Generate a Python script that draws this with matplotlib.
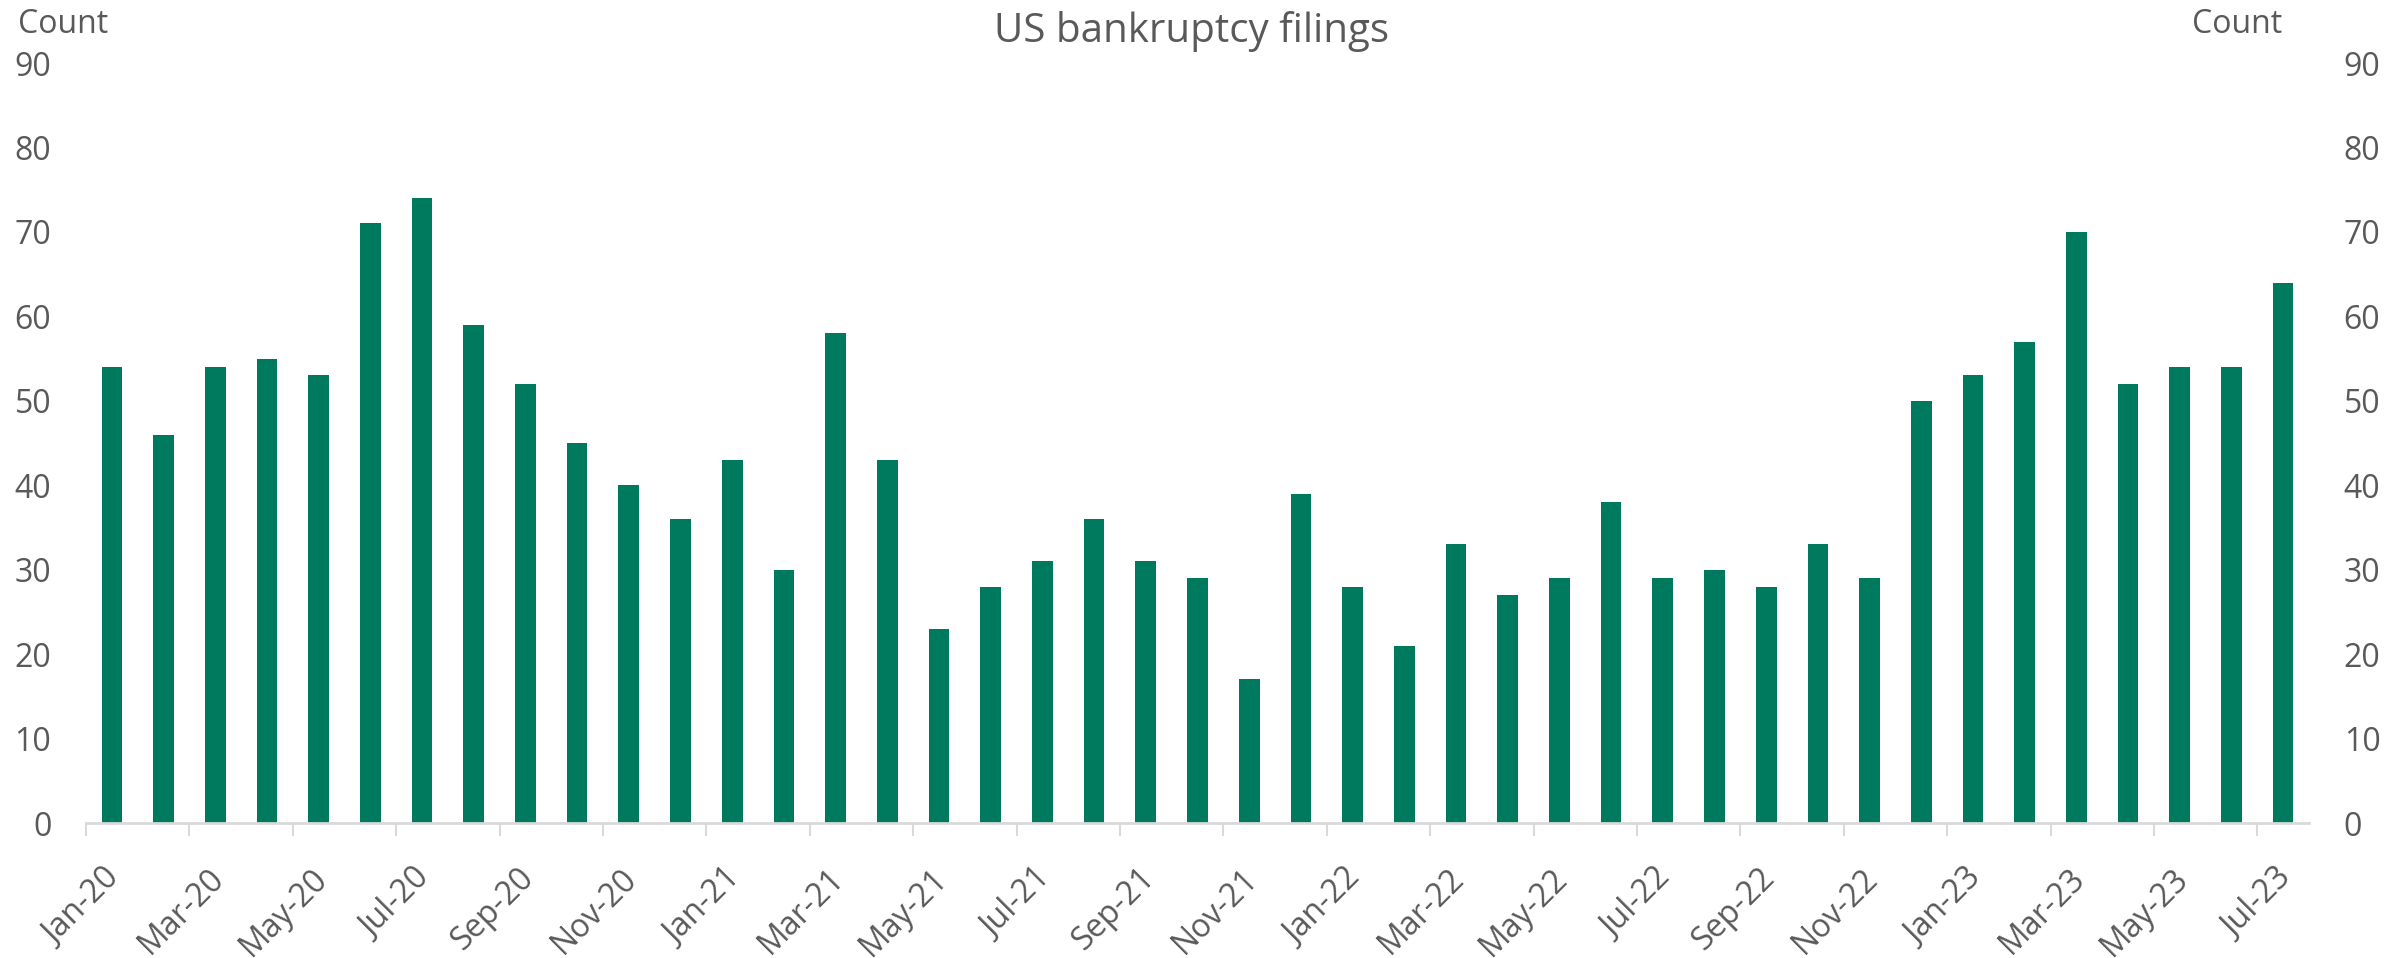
import numpy as np
import matplotlib
matplotlib.use("Agg")
import matplotlib.pyplot as plt
import matplotlib.transforms as mtransforms

# monthly filings, Jan-20 .. Jul-23
months = ["Jan-20", "Feb-20", "Mar-20", "Apr-20", "May-20", "Jun-20", "Jul-20", "Aug-20",
          "Sep-20", "Oct-20", "Nov-20", "Dec-20",
          "Jan-21", "Feb-21", "Mar-21", "Apr-21", "May-21", "Jun-21", "Jul-21", "Aug-21",
          "Sep-21", "Oct-21", "Nov-21", "Dec-21",
          "Jan-22", "Feb-22", "Mar-22", "Apr-22", "May-22", "Jun-22", "Jul-22", "Aug-22",
          "Sep-22", "Oct-22", "Nov-22", "Dec-22",
          "Jan-23", "Feb-23", "Mar-23", "Apr-23", "May-23", "Jun-23", "Jul-23"]
filings = [54, 46, 54, 55, 53, 71, 74, 59, 52, 45, 40, 36,
           43, 30, 58, 43, 23, 28, 31, 36, 31, 29, 17, 39,
           28, 21, 33, 27, 29, 38, 29, 30, 28, 33, 29, 50,
           53, 57, 70, 52, 54, 54, 64]
yticks = [0, 10, 20, 30, 40, 50, 60, 70, 80, 90]

plt.rcParams['font.family'] = ['Open Sans', 'DejaVu Sans']
grey = '#595959'
green = '#007A5E'

fig = plt.figure(figsize=(24.07, 9.58), dpi=100)
ax = fig.add_axes([86 / 2407, 1 - 823 / 958, (2309 - 86) / 2407, (823 - 63) / 958])

x = np.arange(len(months))
ax.bar(x, filings, width=0.4, color=green)

ax.set_xlim(-0.5, len(months) - 0.5)
ax.set_ylim(0, 90)
ax.set_yticks(yticks)

for s in ['top', 'left', 'right']:
    ax.spines[s].set_visible(False)
ax.spines['bottom'].set_color('#d9d9d9')
ax.spines['bottom'].set_linewidth(2)

# labels every second month, tick marks on category boundaries
ax.set_xticks(x[::2])
ax.set_xticklabels(months[::2], rotation=45, ha='right', va='top',
                   rotation_mode='anchor', fontsize=23, color=grey)
ax.set_xticks(np.arange(-0.5, len(months) - 1, 2), minor=True)
ax.tick_params(axis='x', which='major', length=0, pad=28)
ax.tick_params(axis='x', which='minor', length=9.5, width=1.5, color='#d9d9d9')
shift = mtransforms.ScaledTranslation(-8 / 100, 0, fig.dpi_scale_trans)
for lab in ax.get_xticklabels():
    lab.set_transform(lab.get_transform() + shift)

ax.tick_params(axis='y', length=0, labelsize=23, labelcolor=grey, pad=25,
               labelright=True)

fig.text(1192 / 2407, 1 - 42 / 958, "US bankruptcy filings", ha='center',
         va='baseline', fontsize=29, color=grey)
fig.text(18 / 2407, 1 - 33 / 958, "Count", ha='left', va='baseline',
         fontsize=23, color=grey)
fig.text(2282 / 2407, 1 - 33 / 958, "Count", ha='right', va='baseline',
         fontsize=23, color=grey)

fig.savefig("out.png", dpi=100)
